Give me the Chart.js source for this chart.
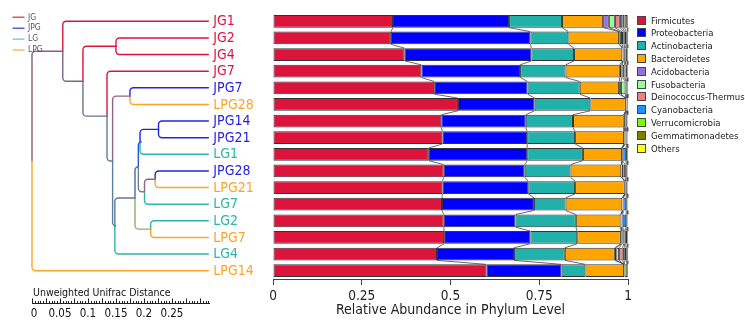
<!DOCTYPE html>
<html>
<head>
<meta charset="utf-8">
<script src="https://cdn.jsdelivr.net/npm/chart.js@4.4.1/dist/chart.umd.min.js"></script>
<style>
  html, body { margin: 0; padding: 0; background: #fff; }
  #wrap { position: relative; width: 745px; height: 320px; overflow: hidden; }
  canvas { position: absolute; left: 0; top: 0; }
  #legend { position: absolute; left: 637px; top: 13.8px; font: 9.5px "DejaVu Sans Condensed", "Liberation Sans Narrow", "DejaVu Sans", sans-serif; color: #222; }
  .item { height: 12.8px; display: flex; align-items: center; white-space: nowrap; }
  .box { width: 7px; height: 7px; border: 1px solid #444; margin-right: 5px; flex: none; }
</style>
</head>
<body>
<div id="wrap">
  <canvas id="tree" width="272" height="320"></canvas>
  <canvas id="bars" width="745" height="320"></canvas>
  <div id="legend"></div>
</div>
<script>
// samples, top to bottom
const samples = ['JG1', 'JG2', 'JG4', 'JG7', 'JPG7', 'LPG28', 'JPG14', 'JPG21',
                 'LG1', 'JPG28', 'LPG21', 'LG7', 'LG2', 'LPG7', 'LG4', 'LPG14'];
const groups  = ['JG', 'JG', 'JG', 'JG', 'JPG', 'LPG', 'JPG', 'JPG',
                 'LG', 'JPG', 'LPG', 'LG', 'LG', 'LPG', 'LG', 'LPG'];
const groupNames = ['JG', 'JPG', 'LG', 'LPG'];

// dendrogram merges: [child, child, distance]; numbers = sample index, 'nK' = K-th merge
const merges = [
  [1, 2, 0.150],        // n0
  [4, 5, 0.175],        // n1
  [6, 7, 0.226],        // n2
  ['n2', 8, 0.193],     // n3
  [9, 10, 0.220],       // n4
  ['n4', 11, 0.201],    // n5
  ['n3', 'n5', 0.190],  // n6
  [12, 13, 0.212],      // n7
  ['n6', 'n7', 0.184],  // n8
  ['n8', 14, 0.148],    // n9
  ['n1', 'n9', 0.144],  // n10
  [3, 'n10', 0.134],    // n11
  ['n0', 'n11', 0.091], // n12
  [0, 'n12', 0.055],    // n13
  ['n13', 15, 0.0]      // root
];
const leafDistance = 0.315;
const distanceMax = 0.318;
const rulerTicks = [0, 0.05, 0.1, 0.15, 0.2, 0.25];
const rulerLabels = ['0', '0.05', '0.1', '0.15', '0.2', '0.25'];

// phylum relative abundance, one array per phylum, in sample order
const phyla = ['Firmicutes', 'Proteobacteria', 'Actinobacteria', 'Bacteroidetes', 'Acidobacteria',
               'Fusobacteria', 'Deinococcus-Thermus', 'Cyanobacteria', 'Verrucomicrobia',
               'Gemmatimonadetes', 'Others'];
const firmicutes      = [.338, .332, .371, .418, .454, .521, .474, .477, .439, .481, .477, .476, .481, .482, .462, .601];
const proteobacteria  = [.327, .393, .357, .278, .263, .216, .238, .239, .277, .228, .242, .259, .202, .243, .217, .212];
const actinobacteria  = [.149, .107, .120, .128, .147, .157, .133, .135, .157, .129, .132, .089, .170, .132, .143, .067];
const bacteroidetes   = [.116, .143, .136, .153, .111, .100, .143, .138, .110, .143, .140, .160, .126, .123, .141, .109];
const acidobacteria   = [.016, .002, .001, .005, .005, 0, .001, 0, 0, .001, 0, .001, .002, .002, .004, 0];
const fusobacteria    = [.017, .006, .002, .002, .013, 0, 0, .001, 0, .001, 0, 0, .001, .002, .008, 0];
const deinococcus     = [.014, .005, .004, .006, .002, .001, .004, .003, .001, .009, .002, .002, .003, .004, .010, 0];
const cyanobacteria   = [.007, .003, .002, .003, .002, .001, .002, .003, .010, .003, .002, .008, .010, .002, .006, .001];
const verrucomicrobia = [.006, .004, .004, .004, .002, .003, .003, .002, .003, .003, .003, .003, .003, .004, .004, .008];
const gemmatimonadetes= [.008, .003, .002, .002, .0005, 0, .001, .001, .002, .001, .001, .001, .001, .005, .003, 0];
const others          = [.002, .002, .001, .001, .0005, .001, .001, .001, .001, .001, .001, .001, .001, .001, .002, .002];
const abundance = [firmicutes, proteobacteria, actinobacteria, bacteroidetes, acidobacteria, fusobacteria,
                   deinococcus, cyanobacteria, verrucomicrobia, gemmatimonadetes, others];
const xTicks = [0, 0.25, 0.5, 0.75, 1];
const xTickLabels = ['0', '0.25', '0.5', '0.75', '1'];

const phylumColors = ['#dc143c', '#0000ff', '#20b2aa', '#ffa500', '#9370db', '#98fb98',
                      '#f08080', '#1e90ff', '#7cfc00', '#808000', '#ffff00'];
const groupColors = { JG: '#dc143c', JPG: '#2424e0', LG: '#2cb5a8', LPG: '#fba526' };
const FONT = '"DejaVu Sans Condensed", "Liberation Sans Narrow", "DejaVu Sans", sans-serif';

Chart.defaults.font.family = FONT;
Chart.defaults.animation = false;

function hexToRgb(h) {
  return [1, 3, 5].map(i => parseInt(h.slice(i, i + 2), 16));
}
function rgbStr(c, a) {
  return 'rgba(' + c.map(Math.round).join(',') + ',' + (a == null ? 1 : a) + ')';
}

// build the tree nodes; internal nodes get the mean colour of their leaves
const nodes = samples.map((s, i) => ({ d: leafDistance, row: i, n: 1, rgb: hexToRgb(groupColors[groups[i]]) }));
function nodeRef(c) {
  return typeof c === 'number' ? nodes[c] : nodes[samples.length + Number(c.slice(1))];
}
merges.forEach(([a, b, d]) => {
  const na = nodeRef(a), nb = nodeRef(b);
  const n = na.n + nb.n;
  nodes.push({
    d: d, row: (na.row + nb.row) / 2, a: na, b: nb, n: n,
    rgb: na.rgb.map((v, k) => (v * na.n + nb.rgb[k] * nb.n) / n)
  });
});

const treePlugin = {
  id: 'tree',
  afterDraw(chart) {
    const ctx = chart.ctx;
    const xs = chart.scales.x, ys = chart.scales.y;
    ctx.save();
    ctx.lineWidth = 1.4;
    ctx.lineCap = 'round';

    // branches with rounded elbows
    nodes.filter(nd => nd.a).forEach(nd => {
      const x0 = xs.getPixelForValue(nd.d);
      const ym = ys.getPixelForValue(nd.row);
      [nd.a, nd.b].forEach(ch => {
        const xc = xs.getPixelForValue(ch.d);
        const yc = ys.getPixelForValue(ch.row);
        const r = Math.min(3.5, Math.abs(ym - yc));
        ctx.strokeStyle = rgbStr(ch.rgb);
        ctx.beginPath();
        ctx.moveTo(xc, yc);
        ctx.arcTo(x0, yc, x0, ym, r);
        ctx.lineTo(x0, ym);
        ctx.stroke();
      });
    });

    // leaf labels
    ctx.font = '14px ' + FONT;
    ctx.textBaseline = 'middle';
    ctx.textAlign = 'left';
    samples.forEach((s, i) => {
      ctx.fillStyle = groupColors[groups[i]];
      ctx.fillText(s, xs.getPixelForValue(leafDistance) + 5, ys.getPixelForValue(i) + 0.5);
    });

    // group legend (top left)
    ctx.font = '8.5px ' + FONT;
    groupNames.forEach((g, i) => {
      const y = 17.3 + i * 10.9;
      ctx.strokeStyle = rgbStr(hexToRgb(groupColors[g]), 0.75);
      ctx.beginPath();
      ctx.moveTo(13, y);
      ctx.lineTo(24, y);
      ctx.stroke();
      ctx.fillStyle = '#555';
      ctx.fillText(g, 28, y);
    });

    // distance ruler
    const yR = 303.5;
    const x0 = xs.getPixelForValue(0), x1 = xs.getPixelForValue(distanceMax);
    ctx.strokeStyle = '#222';
    ctx.lineWidth = 1;
    ctx.lineCap = 'butt';
    ctx.beginPath();
    ctx.moveTo(x0, yR);
    ctx.lineTo(x1, yR);
    for (let k = 0; k * 0.005 <= distanceMax + 1e-9; k++) {
      const px = Math.round(xs.getPixelForValue(k * 0.005)) + 0.5;
      ctx.moveTo(px, yR);
      ctx.lineTo(px, yR - (k % 5 === 0 ? 5 : 2.5));
    }
    ctx.stroke();
    ctx.fillStyle = '#111';
    ctx.font = '10.5px ' + FONT;
    ctx.fillText('Unweighted Unifrac Distance', x0 + 1, 293);
    ctx.font = '11.5px ' + FONT;
    ctx.textAlign = 'center';
    rulerTicks.forEach((t, i) => {
      ctx.fillText(rulerLabels[i], xs.getPixelForValue(t) + (i === 0 ? 2 : 0), 314);
    });
    ctx.restore();
  }
};

new Chart(document.getElementById('tree'), {
  type: 'scatter',
  data: { datasets: [] },
  options: {
    responsive: false,
    layout: { padding: { left: 32, right: 62, top: 13, bottom: 41 } },
    plugins: { legend: { display: false }, tooltip: { enabled: false } },
    scales: {
      x: { type: 'linear', min: 0, max: distanceMax, display: false },
      y: { type: 'linear', min: -0.5, max: samples.length - 0.5, reverse: true, display: false }
    }
  },
  plugins: [treePlugin]
});

// slanted lines joining the segment edges of neighbouring bars
const connectorPlugin = {
  id: 'connectors',
  afterDatasetsDraw(chart) {
    const ctx = chart.ctx;
    const metas = chart.data.datasets.map((_, k) => chart.getDatasetMeta(k));
    ctx.save();
    ctx.strokeStyle = '#444';
    ctx.lineWidth = 0.8;
    for (let i = 0; i < samples.length - 1; i++) {
      metas.forEach(meta => {
        const a = meta.data[i], b = meta.data[i + 1];
        ctx.beginPath();
        ctx.moveTo(a.x, a.y + a.height / 2);
        ctx.lineTo(b.x, b.y - b.height / 2);
        ctx.stroke();
      });
    }
    ctx.restore();
  }
};

new Chart(document.getElementById('bars'), {
  type: 'bar',
  data: {
    labels: samples,
    datasets: phyla.map((name, k) => ({
      label: name,
      data: abundance[k],
      backgroundColor: phylumColors[k],
      borderColor: '#333',
      borderWidth: 1,
      borderSkipped: false,
      barPercentage: 0.76,
      categoryPercentage: 1
    }))
  },
  options: {
    indexAxis: 'y',
    responsive: false,
    layout: { padding: { left: 273, right: 117, top: 13, bottom: 0 } },
    plugins: { legend: { display: false }, tooltip: { enabled: false } },
    scales: {
      x: {
        stacked: true,
        min: 0,
        max: 1,
        afterFit: s => { s.height = 41; },
        afterBuildTicks: s => { s.ticks = xTicks.map(v => ({ value: v })); },
        ticks: {
          callback: (v, i) => xTickLabels[i],
          font: { size: 13.5 },
          color: '#222',
          padding: 3,
          maxRotation: 0
        },
        grid: { drawOnChartArea: false, tickLength: 6, color: '#444' },
        border: { color: '#444' },
        title: {
          display: true,
          text: 'Relative Abundance in Phylum Level',
          font: { size: 14 },
          color: '#222',
          padding: { top: 0, bottom: 1.6 }
        }
      },
      y: { stacked: true, display: false }
    }
  },
  plugins: [connectorPlugin]
});

// legend on the right
const legend = document.getElementById('legend');
phyla.forEach((name, k) => {
  const item = document.createElement('div');
  item.className = 'item';
  const box = document.createElement('span');
  box.className = 'box';
  box.style.background = phylumColors[k];
  item.appendChild(box);
  item.appendChild(document.createTextNode(name));
  legend.appendChild(item);
});
</script>
</body>
</html>
